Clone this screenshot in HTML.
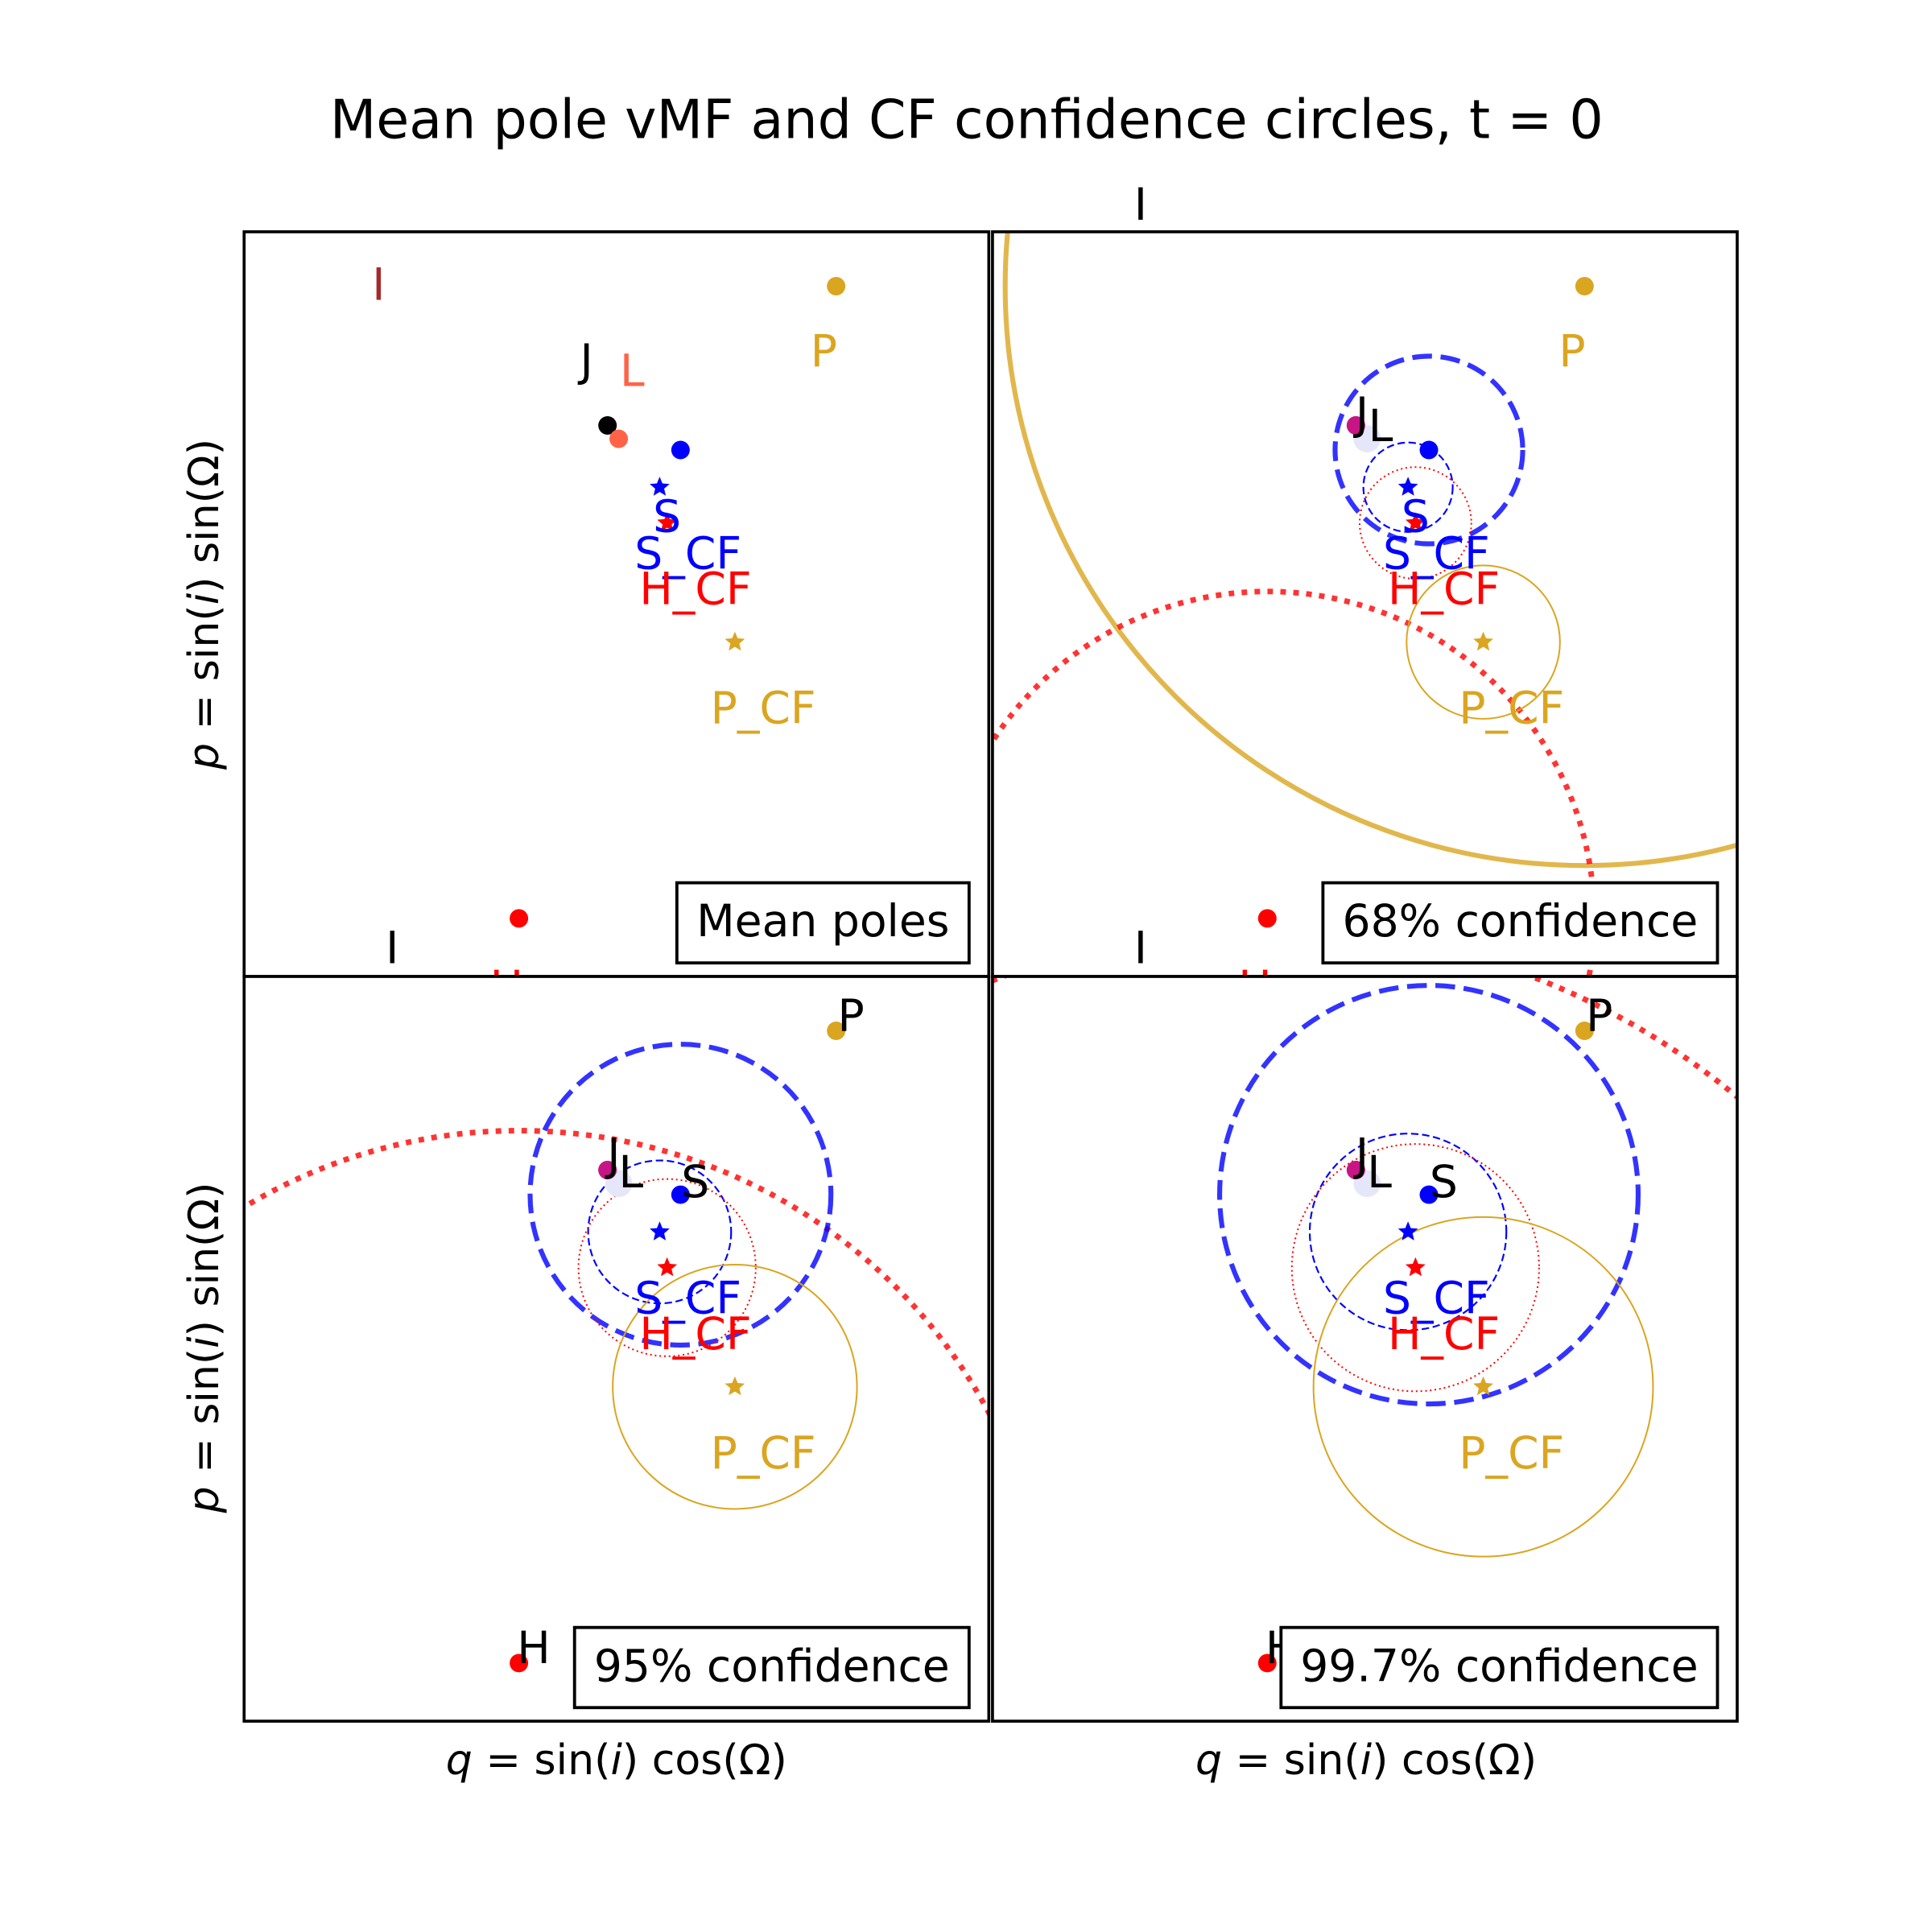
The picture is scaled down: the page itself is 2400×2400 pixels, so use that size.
<!DOCTYPE html>
<html><head><meta charset="utf-8"><style>
html,body{margin:0;padding:0;background:#fff;width:2400px;height:2400px;overflow:hidden}
svg{display:block;position:absolute;left:0;top:0}
text{font-family:"DejaVu Sans","Liberation Sans",sans-serif}
</style></head><body>
<svg id="chart" xmlns="http://www.w3.org/2000/svg" width="2400" height="2400" viewBox="0 0 1567 1567">
<rect x="0" y="0" width="1567" height="1567" fill="#fff"/>
<text x="784" y="112" font-size="43.5" text-anchor="middle">Mean pole vMF and CF confidence circles, t = 0</text>
<g id="panels"></g>
<text x="500" y="1439" font-size="34" text-anchor="middle"><tspan font-style="italic">q</tspan> = sin(<tspan font-style="italic">i</tspan>) cos(Ω)</text>
<text x="1108" y="1439" font-size="34" text-anchor="middle"><tspan font-style="italic">q</tspan> = sin(<tspan font-style="italic">i</tspan>) cos(Ω)</text>
<text transform="translate(177,490) rotate(-90)" font-size="34" text-anchor="middle"><tspan font-style="italic">p</tspan> = sin(<tspan font-style="italic">i</tspan>) sin(Ω)</text>
<text transform="translate(177,1093) rotate(-90)" font-size="34" text-anchor="middle"><tspan font-style="italic">p</tspan> = sin(<tspan font-style="italic">i</tspan>) sin(Ω)</text>
</svg>
<script>
// data coordinates: q and p in [0,100] per panel
const pointNames = ["I","J","L","S","H","P"];
const pointQ = [17.9, 48.8, 50.3, 58.6, 36.9, 79.5];
const pointP = [101.8, 74.0, 72.2, 70.7, 7.8, 92.7];
const cfNames = ["S_CF","H_CF","P_CF"];
const cfQ = [55.8, 56.8, 65.9];
const cfP = [65.7, 60.9, 44.9];
const panelTitles = ["Mean poles","68% confidence","95% confidence","99.7% confidence"];
// radii (data units) per confidence level: [mean-S, mean-H, mean-P, cf-S, cf-H, cf-P]
const radii68 = [12.6, 43.9, 77.8, 6.0, 7.5, 10.3];
const radii95 = [20.2, 71.5, 140, 9.6, 11.9, 16.4];
const radii997 = [28.1, 98.8, 190, 13.2, 16.6, 22.8];

const NS = "http://www.w3.org/2000/svg";
const root = document.getElementById("panels");
const PW = 604, PH = 604;
const origins = [[198,188],[805,188],[198,792],[805,792]];
function xs(o,q){return o[0] + q/100*PW;}
function ys(o,p){return o[1] + PH - p/100*PH;}
function rs(r){return r/100*PW;}
function mk(tag, attrs, parent){
  const e = document.createElementNS(NS, tag);
  for (const k in attrs) e.setAttribute(k, attrs[k]);
  parent.appendChild(e); return e;
}
function starPath(cx,cy,R){
  let d=""; const r=R*0.45;
  for(let i=0;i<10;i++){const a=-Math.PI/2+i*Math.PI/5;const rr=i%2?r:R;
    d+=(i?"L":"M")+(cx+rr*Math.cos(a)).toFixed(2)+","+(cy+rr*Math.sin(a)).toFixed(2);}
  return d+"Z";
}
const dotColorsMean = {I:"#a52a2a",J:"#000000",L:"#ff6347",S:"#0000ff",H:"#ff0000",P:"#daa520"};
const cfColors = ["#0000ff","#ff0000","#daa520"];
const boxes = [[549,716,237,65],[1073,716,320,65],[466,1320,320,65],[1039,1320,354,65]];
const radiiSets = [null, radii68, radii95, radii997];
const FS = 36, DY = 13;

for (let k=0;k<4;k++){
  const o = origins[k];
  const g = mk("g", {}, root);
  
  
  const cp = mk("clipPath", {id:"clip"+k}, g);
  mk("rect", {x:o[0], y:o[1], width:PW, height:PH}, cp);
  const bg = mk("rect", {x:o[0], y:o[1], width:PW, height:PH, fill:"#fff"}, g);
  
  
  const inner = mk("g", {"clip-path":"url(#clip"+k+")"}, g);
  const idx = n => pointNames.indexOf(n);
  const px = n => xs(o, pointQ[idx(n)]), py = n => ys(o, pointP[idx(n)]);
  const rad = radiiSets[k];
  if (rad){
    let c = mk("circle",{cx:px("P"),cy:py("P"),r:rs(rad[2]),fill:"none",stroke:"#daa520","stroke-opacity":0.8,"stroke-width":4}, inner);
    
    
    c = mk("circle",{cx:px("H"),cy:py("H"),r:rs(rad[1]),fill:"none",stroke:"#ff0000","stroke-opacity":0.8,"stroke-width":4.5,"stroke-dasharray":"4.5 6"}, inner);
    
    
    c = mk("circle",{cx:px("S"),cy:py("S"),r:rs(rad[0]),fill:"none",stroke:"#0000ff","stroke-opacity":0.8,"stroke-width":4,"stroke-dasharray":"16 7"}, inner);
    
    
    c = mk("circle",{cx:xs(o,cfQ[0]),cy:ys(o,cfP[0]),r:rs(rad[3]),fill:"none",stroke:"#0000ff","stroke-width":1.4,"stroke-dasharray":"6 3"}, inner);
    
    
    c = mk("circle",{cx:xs(o,cfQ[1]),cy:ys(o,cfP[1]),r:rs(rad[4]),fill:"none",stroke:"#ff0000","stroke-width":1.3,"stroke-dasharray":"1.3 2.5"}, inner);
    
    
    c = mk("circle",{cx:xs(o,cfQ[2]),cy:ys(o,cfP[2]),r:rs(rad[5]),fill:"none",stroke:"#daa520","stroke-width":1.3}, inner);
    
    
  }
  for (let i=0;i<pointNames.length;i++){
    const n = pointNames[i];
    let col = dotColorsMean[n], r = 7.5;
    if (k>0 && n==="L"){ col="#e6e6fa"; r=11; }
    if (k>0 && n==="J"){ col="#c71585"; }
    const d = mk("circle",{cx:xs(o,pointQ[i]),cy:ys(o,pointP[i]),r:r,fill:col}, inner);
    
    
  }
  if (k>0){
    const d = mk("circle",{cx:px("J"),cy:py("J"),r:7.5,fill:"#c71585"}, inner);
    
    
  }
  for (let i=0;i<cfNames.length;i++){
    const s = mk("path",{d:starPath(xs(o,cfQ[i]),ys(o,cfP[i]),8.5),fill:cfColors[i]}, inner);
    
    
  }
  const fr = mk("rect",{x:o[0],y:o[1],width:PW,height:PH,fill:"none",stroke:"#000","stroke-width":2.4}, g);
  
  
  const labs = [];
  if (k===0){
    labs.push(["I","I",1,53,"#a52a2a"],["J","J",-17,-53,"#000"],["L","L",11,-56,"#ff6347"],["P","P",-10,52,"#daa520"],["H","H",-10,55,"#ff0000"]);
  } else if (k===1){
    labs.push(["I","I",12,-12,"#000"],["J","J",5,-10,"#000"],["L","L",11,-11,"#000"],["P","P",-10,52,"#daa520"],["H","H",-10,55,"#ff0000"]);
  } else {
    labs.push(["I","I",12,-13,"#000"],["J","J",5,-13,"#000"],["L","L",10,-10,"#000"],["S","S",12,-11,"#000"],["P","P",12,-13,"#000"],["H","H",12,-13,"#000"]);
  }
  for (const L of labs){
    const t = mk("text",{x:px(L[0])+L[2],y:py(L[0])+L[3]+DY,"font-size":FS,"text-anchor":"middle",fill:L[4]}, g);
    t.textContent = L[1];
    
    
  }
  if (k<2){
    const t = mk("text",{x:xs(o,cfQ[0])+6,y:ys(o,cfP[0])+23+DY,"font-size":FS,"text-anchor":"middle",fill:"#0000ff"}, g);
    t.textContent = "S";
    
    
  }
  for (let i=0;i<cfNames.length;i++){
    const t = mk("text",{x:xs(o,cfQ[i])+23,y:ys(o,cfP[i])+53+DY,"font-size":FS,"text-anchor":"middle",fill:cfColors[i]}, g);
    t.textContent = cfNames[i];
    
    
  }
}
for (let k=0;k<4;k++){
  const b = boxes[k];
  const g = mk("g",{}, root);
  
  
  mk("rect",{x:b[0],y:b[1],width:b[2],height:b[3],fill:"#fff",stroke:"#000","stroke-width":2.5}, g);
  const t = mk("text",{x:b[0]+b[2]/2,y:b[1]+b[3]/2+11,"font-size":FS,"text-anchor":"middle"}, g);
  t.textContent = panelTitles[k];
  
  
}
</script>
</body></html>
